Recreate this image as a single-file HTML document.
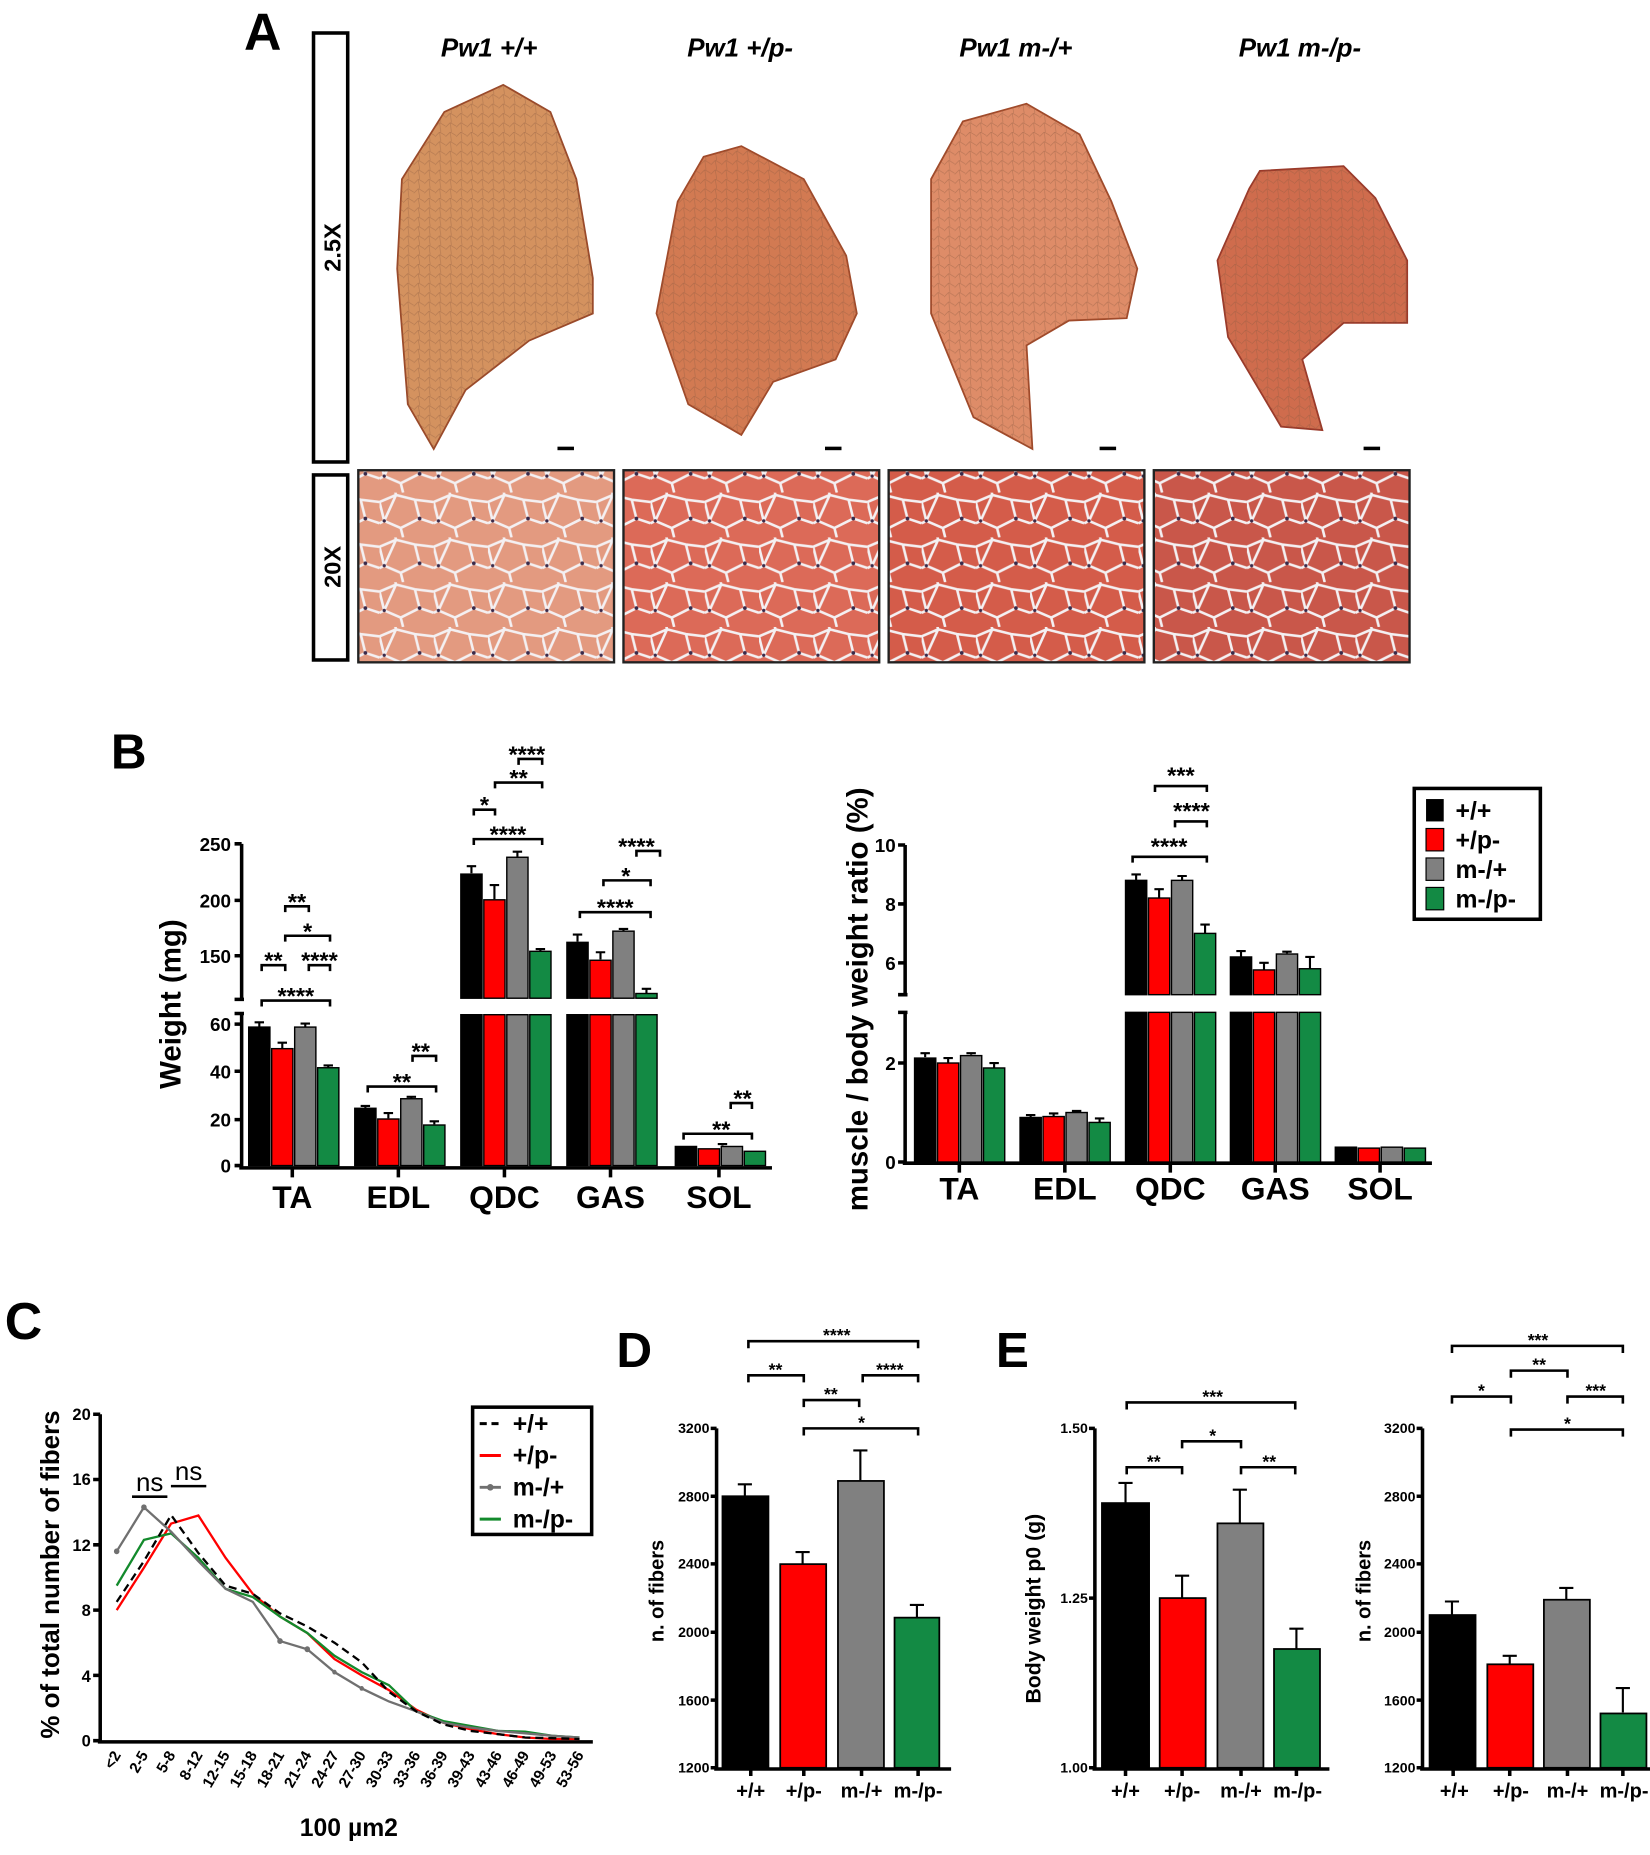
<!DOCTYPE html>
<html><head><meta charset="utf-8"><style>
html,body{margin:0;padding:0;background:#fff;}
svg{display:block}
text{font-family:"Liberation Sans Narrow","Liberation Sans",sans-serif;font-weight:bold;fill:#000}
.b{stroke:#000;stroke-width:2.2;fill:none}
.ax{stroke:#000;stroke-width:3;fill:none}
.er{stroke:#000;stroke-width:1.8;fill:none}
</style></head><body>
<svg width="1650" height="1855" viewBox="0 0 1400 1574" xmlns="http://www.w3.org/2000/svg">
<defs>
<pattern id="cells" width="46" height="38" patternUnits="userSpaceOnUse">
<path d="M0 8 L14 2 L30 6 L46 8 M14 2 L12 -6 M30 6 L34 22 L46 26 M34 22 L18 30 L4 24 L0 26 M4 24 L0 8 M18 30 L20 38 M14 2 L4 24" stroke="#f4f0f2" stroke-width="2.2" fill="none"/>
<circle cx="34" cy="22" r="1.6" fill="#3a2a4a"/><circle cx="4" cy="24" r="1.4" fill="#3a2a4a"/>
</pattern>
<pattern id="fine" width="9" height="8" patternUnits="userSpaceOnUse">
<path d="M0 4 L4 0 L9 3 M4 0 L5 8" stroke="#8a5a40" stroke-width="0.5" fill="none" opacity="0.5"/>
</pattern>
</defs>

<!-- Panel A -->
<text x="207" y="42" style="font-size:44px">A</text>
<rect x="266" y="28" width="29" height="364" fill="none" stroke="#000" stroke-width="3"/>
<rect x="266" y="403" width="29" height="157" fill="none" stroke="#000" stroke-width="3"/>
<text transform="translate(289,210) rotate(-90)" text-anchor="middle" style="font-size:20px">2.5X</text>
<text transform="translate(289,481) rotate(-90)" text-anchor="middle" style="font-size:20px">20X</text>
<g style="font-size:22px;font-style:italic" text-anchor="middle">
<text x="415" y="48">Pw1 +/+</text><text x="628" y="48">Pw1 +/p-</text>
<text x="862" y="48">Pw1 m-/+</text><text x="1103" y="48">Pw1 m-/p-</text></g>
<polygon points="427,72 467,95 489,152 503,236 503,266 449,289 395,331 368,381 346,343 337,228 341,152 377,95" fill="#d4925f" stroke="#9a4a2a" stroke-width="1.5"/>
<polygon points="427,72 467,95 489,152 503,236 503,266 449,289 395,331 368,381 346,343 337,228 341,152 377,95" fill="url(#fine)"/>
<polygon points="629,124 682,152 718,217 727,266 709,305 656,324 629,369 584,343 557,266 575,171 597,133" fill="#d27a52" stroke="#a04a2a" stroke-width="1.5"/>
<polygon points="629,124 682,152 718,217 727,266 709,305 656,324 629,369 584,343 557,266 575,171 597,133" fill="url(#fine)"/>
<polygon points="871,88 916,114 943,171 965,228 956,270 907,272 871,293 876,381 826,354 790,266 790,152 817,103" fill="#de8c68" stroke="#a04a2a" stroke-width="1.5"/>
<polygon points="871,88 916,114 943,171 965,228 956,270 907,272 871,293 876,381 826,354 790,266 790,152 817,103" fill="url(#fine)"/>
<polygon points="1069,145 1140,141 1167,168 1194,221 1194,274 1140,274 1105,305 1122,365 1087,362 1042,286 1033,221 1060,160" fill="#cf6c4d" stroke="#9a3a2a" stroke-width="1.5"/>
<polygon points="1069,145 1140,141 1167,168 1194,221 1194,274 1140,274 1105,305 1122,365 1087,362 1042,286 1033,221 1060,160" fill="url(#fine)"/>
<g fill="#000"><rect x="473" y="379" width="14" height="3"/><rect x="700" y="379" width="14" height="3"/><rect x="933" y="379" width="14" height="3"/><rect x="1157" y="379" width="14" height="3"/></g>
<rect x="304" y="399" width="217" height="163" fill="#e39a80"/><rect x="304" y="399" width="217" height="163" fill="url(#cells)"/>
<rect x="529" y="399" width="217" height="163" fill="#dc6a58"/><rect x="529" y="399" width="217" height="163" fill="url(#cells)"/>
<rect x="754" y="399" width="217" height="163" fill="#d45c4a"/><rect x="754" y="399" width="217" height="163" fill="url(#cells)"/>
<rect x="979" y="399" width="217" height="163" fill="#c9574a"/><rect x="979" y="399" width="217" height="163" fill="url(#cells)"/>
<g fill="none" stroke="#222" stroke-width="2"><rect x="304" y="399" width="217" height="163"/><rect x="529" y="399" width="217" height="163"/><rect x="754" y="399" width="217" height="163"/><rect x="979" y="399" width="217" height="163"/></g>

<!-- Panel B left -->
<text x="94" y="652" style="font-size:42px">B</text>
<g transform="translate(0,4)">
<text transform="translate(153,848) rotate(-90)" text-anchor="middle" style="font-size:25px;font-family:'Liberation Sans',sans-serif">Weight (mg)</text>
<path class="ax" d="M205 712 V844 M205 856 V987 M203 987 H655"/>
<path class="ax" d="M199 712H205 M199 760H205 M199 807H205 M199 865H205 M199 905H205 M199 946H205 M199 985H205 M199 844H207 M199 856H207"/>
<g text-anchor="end" style="font-size:16px"><text x="196" y="718">250</text><text x="196" y="766">200</text><text x="196" y="813">150</text><text x="196" y="871">60</text><text x="196" y="911">40</text><text x="196" y="952">20</text><text x="196" y="991">0</text></g>
<path class="ax" d="M248 987v8 M338 987v8 M428 987v8 M518 987v8 M610 987v8"/>
<g text-anchor="middle" style="font-size:27px;font-family:'Liberation Sans',sans-serif"><text x="248" y="1021">TA</text><text x="338" y="1021">EDL</text><text x="428" y="1021">QDC</text><text x="518" y="1021">GAS</text><text x="610" y="1021">SOL</text></g>
<g stroke="#000" stroke-width="1.2">
<rect x="211" y="867.5" width="18" height="117.5" fill="#000"/><rect x="230.5" y="885.8" width="18" height="99.2" fill="#f00"/><rect x="250" y="867.5" width="18" height="117.5" fill="#808080"/><rect x="269.5" y="902" width="18" height="83" fill="#138a44"/>
<rect x="301" y="936.4" width="18" height="48.6" fill="#000"/><rect x="320.5" y="945.5" width="18" height="39.5" fill="#f00"/><rect x="340" y="928.3" width="18" height="56.7" fill="#808080"/><rect x="359.5" y="950.6" width="18" height="34.4" fill="#138a44"/>
<rect x="391" y="737.7" width="18" height="105.3" fill="#000"/><rect x="410.5" y="759.5" width="18" height="83.5" fill="#f00"/><rect x="430" y="723.4" width="18" height="119.6" fill="#808080"/><rect x="449.5" y="803.2" width="18" height="39.8" fill="#138a44"/>
<rect x="391" y="857" width="18" height="128" fill="#000"/><rect x="410.5" y="857" width="18" height="128" fill="#f00"/><rect x="430" y="857" width="18" height="128" fill="#808080"/><rect x="449.5" y="857" width="18" height="128" fill="#138a44"/>
<rect x="481" y="795.6" width="18" height="47.4" fill="#000"/><rect x="500.5" y="810.8" width="18" height="32.2" fill="#f00"/><rect x="520" y="786.1" width="18" height="56.9" fill="#808080"/><rect x="539.5" y="839" width="18" height="4" fill="#138a44"/>
<rect x="481" y="857" width="18" height="128" fill="#000"/><rect x="500.5" y="857" width="18" height="128" fill="#f00"/><rect x="520" y="857" width="18" height="128" fill="#808080"/><rect x="539.5" y="857" width="18" height="128" fill="#138a44"/>
<rect x="573" y="968.8" width="18" height="16.2" fill="#000"/><rect x="592.5" y="970.8" width="18" height="14.2" fill="#f00"/><rect x="612" y="968.8" width="18" height="16.2" fill="#808080"/><rect x="631.5" y="972.9" width="18" height="12.1" fill="#138a44"/>
</g>
<path class="er" d="M220 867V863.5M216 863.5h8 M239.5 885.8V880.7M235.5 880.7h8 M259 867V864.5M255 864.5h8 M278.5 902V900M274.5 900h8
M310 936V934.4M306 934.4h8 M329.5 945V940.5M325.5 940.5h8 M349 928V926.7M345 926.7h8 M368.5 950V947.5M364.5 947.5h8
M400 737V731M396 731h8 M419.5 759V747M415.5 747h8 M439 723V718.7M435 718.7h8 M458.5 803V801.3M454.5 801.3h8
M490 795V789M486 789h8 M509.5 810V804M505.5 804h8 M529 786V784.2M525 784.2h8 M548.5 839V835M544.5 835h8
M613 968V966.8M609 966.8h8"/>
<path class="b" d="M222 850V845H280V850 M222 820V815H242V820 M262 820V815H280V820 M242 795V790H280V795 M242 770V765H262V770
M312 923V918H370V923 M350 897V892H370V897
M402 713V708H460V713 M402 688V683H420V688 M420 665V660H460V665 M440 645V640H460V645
M492 775V770H552V775 M512 748V743H552V748 M540 723V718H560V723
M580 963V958H638V963 M620 937V932H638V937"/>
<g text-anchor="middle" style="font-size:20px"><text x="251" y="848">****</text><text x="232" y="818">**</text><text x="271" y="818">****</text><text x="261" y="793">*</text><text x="252" y="768">**</text>
<text x="341" y="921">**</text><text x="357" y="895">**</text>
<text x="431" y="711">****</text><text x="411" y="686">*</text><text x="440" y="663">**</text><text x="447" y="643">****</text>
<text x="522" y="773">****</text><text x="531" y="746">*</text><text x="540" y="721">****</text>
<text x="612" y="961">**</text><text x="630" y="935">**</text></g>
</g>

<!-- Panel B right -->
<text transform="translate(736,848) rotate(-90)" text-anchor="middle" style="font-size:25px;font-family:'Liberation Sans',sans-serif">muscle / body weight ratio (%)</text>
<path class="ax" d="M768 717 V844 M768 859 V987 M766 987 H1215"/>
<path class="ax" d="M762 717H768 M762 767H768 M762 817H768 M762 902H768 M762 986H768 M762 844H770 M762 859H770"/>
<g text-anchor="end" style="font-size:16px"><text x="760" y="723">10</text><text x="760" y="773">8</text><text x="760" y="823">6</text><text x="760" y="908">2</text><text x="760" y="992">0</text></g>
<path class="ax" d="M814 987v8 M903.5 987v8 M993 987v8 M1082 987v8 M1171 987v8"/>
<g text-anchor="middle" style="font-size:27px;font-family:'Liberation Sans',sans-serif"><text x="814" y="1018">TA</text><text x="903.5" y="1018">EDL</text><text x="993" y="1018">QDC</text><text x="1082" y="1018">GAS</text><text x="1171" y="1018">SOL</text></g>
<g stroke="#000" stroke-width="1.2">
<rect x="776" y="897.8" width="18" height="88.2" fill="#000"/><rect x="795.5" y="902" width="18" height="84" fill="#f00"/><rect x="815" y="895.7" width="18" height="90.3" fill="#808080"/><rect x="834.5" y="906.2" width="18" height="79.8" fill="#138a44"/>
<rect x="865.5" y="948.2" width="18" height="37.8" fill="#000"/><rect x="885" y="947.4" width="18" height="38.6" fill="#f00"/><rect x="904.5" y="944" width="18" height="42" fill="#808080"/><rect x="924" y="952.4" width="18" height="33.6" fill="#138a44"/>
<rect x="955" y="747" width="18" height="97" fill="#000"/><rect x="974.5" y="762" width="18" height="82" fill="#f00"/><rect x="994" y="747" width="18" height="97" fill="#808080"/><rect x="1013.5" y="792" width="18" height="52" fill="#138a44"/>
<rect x="955" y="859" width="18" height="127" fill="#000"/><rect x="974.5" y="859" width="18" height="127" fill="#f00"/><rect x="994" y="859" width="18" height="127" fill="#808080"/><rect x="1013.5" y="859" width="18" height="127" fill="#138a44"/>
<rect x="1044" y="812" width="18" height="32" fill="#000"/><rect x="1063.5" y="823" width="18" height="21" fill="#f00"/><rect x="1083" y="809.5" width="18" height="34.5" fill="#808080"/><rect x="1102.5" y="822" width="18" height="22" fill="#138a44"/>
<rect x="1044" y="859" width="18" height="127" fill="#000"/><rect x="1063.5" y="859" width="18" height="127" fill="#f00"/><rect x="1083" y="859" width="18" height="127" fill="#808080"/><rect x="1102.5" y="859" width="18" height="127" fill="#138a44"/>
<rect x="1133" y="973.4" width="18" height="12.6" fill="#000"/><rect x="1152.5" y="974.2" width="18" height="11.8" fill="#f00"/><rect x="1172" y="973.4" width="18" height="12.6" fill="#808080"/><rect x="1191.5" y="974.2" width="18" height="11.8" fill="#138a44"/>
</g>
<path class="er" d="M785 897V893.6M781 893.6h8 M804.5 902V897.8M800.5 897.8h8 M824 895V893.6M820 893.6h8 M843.5 906V902M839.5 902h8
M874.5 948V946.1M870.5 946.1h8 M894 947V944.8M890 944.8h8 M913.5 944V942.7M909.5 942.7h8 M933 952V949M929 949h8
M964 747V742M960 742h8 M983.5 762V754.5M979.5 754.5h8 M1003 747V743.3M999 743.3h8 M1022.5 792V784.5M1018.5 784.5h8
M1053 812V807M1049 807h8 M1072.5 823V817M1068.5 817h8 M1092 809V807.5M1088 807.5h8 M1111.5 822V812M1107.5 812h8"/>
<path class="b" d="M961 732V727H1024V732 M997 702V697H1024V702 M980 672V667H1024V672"/>
<g text-anchor="middle" style="font-size:20px"><text x="992" y="725">****</text><text x="1011" y="695">****</text><text x="1002" y="665">***</text></g>
<rect x="1200" y="669" width="107" height="111" fill="#fff" stroke="#000" stroke-width="3"/>
<rect x="1210" y="678" width="15" height="19" fill="#000"/><rect x="1210" y="703" width="15" height="19" fill="#f00" stroke="#000"/><rect x="1210" y="728" width="15" height="19" fill="#808080" stroke="#000"/><rect x="1210" y="753" width="15" height="19" fill="#138a44" stroke="#000"/>
<g style="font-size:21px;font-family:'Liberation Sans',sans-serif"><text x="1235" y="695">+/+</text><text x="1235" y="720">+/p-</text><text x="1235" y="745">m-/+</text><text x="1235" y="770">m-/p-</text></g>

<!-- Panel C -->
<text x="4" y="1136" style="font-size:44px">C</text>
<text transform="translate(50,1336) rotate(-90)" text-anchor="middle" style="font-size:22px;font-family:'Liberation Sans',sans-serif">% of total number of fibers</text>
<path class="ax" d="M85 1200 V1478 M83 1478 H503"/>
<path class="ax" d="M79 1200H85 M79 1255.4H85 M79 1310.8H85 M79 1366.2H85 M79 1421.6H85 M79 1477H85"/>
<g text-anchor="end" style="font-size:14px"><text x="77" y="1205">20</text><text x="77" y="1260">16</text><text x="77" y="1316">12</text><text x="77" y="1371">8</text><text x="77" y="1427">4</text><text x="77" y="1482">0</text></g>
<g style="font-size:13px" text-anchor="end">
<text transform="translate(103,1489) rotate(-60)">&lt;2</text><text transform="translate(126.1,1489) rotate(-60)">2-5</text><text transform="translate(149.2,1489) rotate(-60)">5-8</text><text transform="translate(172.3,1489) rotate(-60)">8-12</text><text transform="translate(195.4,1489) rotate(-60)">12-15</text><text transform="translate(218.5,1489) rotate(-60)">15-18</text><text transform="translate(241.6,1489) rotate(-60)">18-21</text><text transform="translate(264.7,1489) rotate(-60)">21-24</text><text transform="translate(287.8,1489) rotate(-60)">24-27</text><text transform="translate(310.9,1489) rotate(-60)">27-30</text><text transform="translate(334,1489) rotate(-60)">30-33</text><text transform="translate(357.1,1489) rotate(-60)">33-36</text><text transform="translate(380.2,1489) rotate(-60)">36-39</text><text transform="translate(403.3,1489) rotate(-60)">39-43</text><text transform="translate(426.4,1489) rotate(-60)">43-46</text><text transform="translate(449.5,1489) rotate(-60)">46-49</text><text transform="translate(472.6,1489) rotate(-60)">49-53</text><text transform="translate(495.7,1489) rotate(-60)">53-56</text></g>
<text x="296" y="1558" text-anchor="middle" style="font-size:21px;font-family:'Liberation Sans',sans-serif">100 µm2</text>
<g transform="matrix(0.9429 0 0 1.00727 31.1 -3.7)">
<g fill="none" stroke-width="2.3">
<polyline vector-effect="non-scaling-stroke" stroke="#f00" points="72,1360 96.5,1324.3 121,1287.1 145.5,1280.3 170,1316 194.5,1346.3 219,1365.5 243.5,1379.3 268,1401.3 292.5,1415 317,1427.4 341.5,1443.9 366,1454.9 390.5,1460.4 415,1464.5 439.5,1467.3 464,1468.6 488.5,1468.6"/>
<polyline vector-effect="non-scaling-stroke" stroke="#138a2c" points="72,1339.4 96.5,1300.9 121,1295.4 145.5,1316 170,1342.1 194.5,1349 219,1365.5 243.5,1379.3 268,1398.5 292.5,1412.3 317,1423.3 341.5,1445.3 366,1453.5 390.5,1457.6 415,1461.8 439.5,1462.4 464,1465.9 488.5,1467.3"/>
<polyline vector-effect="non-scaling-stroke" stroke="#707070" points="72,1310.5 96.5,1273.4 121,1294 145.5,1318.8 170,1342.1 194.5,1353.1 219,1386.1 243.5,1393 268,1412.3 292.5,1426 317,1437 341.5,1445.3 366,1454.9 390.5,1459 415,1461.8 439.5,1463.8 464,1465.9 488.5,1467.3"/>
<polyline vector-effect="non-scaling-stroke" stroke="#000" stroke-dasharray="8,5" points="72,1353.1 96.5,1318.8 121,1280 145.5,1311.9 170,1339.4 194.5,1346.3 219,1362.8 243.5,1373.8 268,1387.5 292.5,1404 317,1428.8 341.5,1445.3 366,1456.3 390.5,1461.8 415,1464.5 439.5,1467.3 464,1467.9 488.5,1468.6"/>
</g>
<g fill="#707070"><circle cx="72" cy="1310.5" r="2.5"/><circle cx="96.5" cy="1273.4" r="2.5"/><circle cx="219" cy="1386.1" r="2.5"/><circle cx="243.5" cy="1393" r="2.5"/><circle cx="268" cy="1412.3" r="2"/><circle cx="292.5" cy="1426" r="2"/></g>
</g>
<path class="b" d="M112 1270H142 M145 1261H175"/>
<g style="font-size:22px;font-family:'Liberation Sans',sans-serif" text-anchor="middle"><text x="127" y="1265" style="font-weight:normal">ns</text><text x="160" y="1256" style="font-weight:normal">ns</text></g>
<rect x="401" y="1194" width="101" height="108" fill="#fff" stroke="#000" stroke-width="3"/>
<path d="M407 1208H425" stroke="#000" stroke-width="2.5" stroke-dasharray="6,4"/><path d="M407 1235H425" stroke="#f00" stroke-width="2.5"/><path d="M407 1262H425" stroke="#707070" stroke-width="2.5"/><circle cx="416" cy="1262" r="2.8" fill="#707070"/><path d="M407 1289H425" stroke="#138a2c" stroke-width="2.5"/>
<g style="font-size:21px;font-family:'Liberation Sans',sans-serif"><text x="435" y="1215">+/+</text><text x="435" y="1242">+/p-</text><text x="435" y="1269">m-/+</text><text x="435" y="1296">m-/p-</text></g>

<!-- Panel D -->
<text x="523" y="1160" style="font-size:42px">D</text>
<g transform="translate(7,5)">
<text transform="translate(556,1345) rotate(-90)" text-anchor="middle" style="font-size:17px;font-family:'Liberation Sans',sans-serif">n. of fibers</text>
<path class="ax" d="M601 1207 V1496 M599 1496 H800"/>
<path class="ax" d="M596 1207H601 M596 1264.6H601 M596 1322H601 M596 1380H601 M596 1437.6H601 M596 1495H601 M630 1496v6 M675 1496v6 M724 1496v6 M772 1496v6"/>
<g text-anchor="end" style="font-size:12px"><text x="595" y="1211">3200</text><text x="595" y="1269">2800</text><text x="595" y="1326">2400</text><text x="595" y="1384">2000</text><text x="595" y="1442">1600</text><text x="595" y="1499">1200</text></g>
<g stroke="#000" stroke-width="1.5"><rect x="606" y="1264.6" width="39" height="230.4" fill="#000"/><rect x="655" y="1322.2" width="39" height="172.8" fill="#f00"/><rect x="704" y="1251.6" width="39" height="243.4" fill="#808080"/><rect x="752" y="1367.6" width="38" height="127.4" fill="#138a44"/></g>
<path class="er" d="M625 1264V1254.5M619 1254.5h12 M674 1322V1312M668 1312h12 M723 1251V1225.7M717 1225.7h12 M771 1367V1356.8M765 1356.8h12"/>
<g text-anchor="middle" style="font-size:17px;font-family:'Liberation Sans',sans-serif"><text x="630" y="1520">+/+</text><text x="675" y="1520">+/p-</text><text x="724" y="1520">m-/+</text><text x="772" y="1520">m-/p-</text></g>
<path class="b" d="M628 1139V1133H772V1139 M628 1168V1162H675V1168 M725 1168V1162H772V1168 M675 1189V1183H722V1189 M675 1213V1207H772V1213"/>
<g text-anchor="middle" style="font-size:15px"><text x="703" y="1133">****</text><text x="651" y="1162">**</text><text x="748" y="1162">****</text><text x="698" y="1183">**</text><text x="724" y="1207">*</text></g>
</g>

<!-- Panel E -->
<text x="845" y="1160" style="font-size:42px">E</text>
<g transform="translate(11,5)">
<text transform="translate(872,1360) rotate(-90)" text-anchor="middle" style="font-size:18px;font-family:'Liberation Sans',sans-serif">Body weight p0 (g)</text>
<path class="ax" d="M918 1207 V1496 M916 1496 H1117"/>
<path class="ax" d="M913 1207H918 M913 1351H918 M913 1495H918 M944 1496v6 M992 1496v6 M1042 1496v6 M1089 1496v6"/>
<g text-anchor="end" style="font-size:12px"><text x="912" y="1211">1.50</text><text x="912" y="1355">1.25</text><text x="912" y="1499">1.00</text></g>
<g stroke="#000" stroke-width="1.5"><rect x="924" y="1270.4" width="40" height="224.6" fill="#000"/><rect x="973" y="1351" width="39" height="144" fill="#f00"/><rect x="1022" y="1287.6" width="39" height="207.4" fill="#808080"/><rect x="1070" y="1394.2" width="39" height="100.8" fill="#138a44"/></g>
<path class="er" d="M944 1270V1253.3M938 1253.3h12 M992 1351V1332M986 1332h12 M1041 1287V1259M1035 1259h12 M1089 1394V1377M1083 1377h12"/>
<g text-anchor="middle" style="font-size:17px;font-family:'Liberation Sans',sans-serif"><text x="944" y="1520">+/+</text><text x="992" y="1520">+/p-</text><text x="1042" y="1520">m-/+</text><text x="1090" y="1520">m-/p-</text></g>
<path class="b" d="M945 1191V1185H1088V1191 M945 1246V1240H992V1246 M992 1224V1218H1042V1224 M1042 1246V1240H1088V1246"/>
<g text-anchor="middle" style="font-size:15px"><text x="1018" y="1185">***</text><text x="968" y="1240">**</text><text x="1018" y="1218">*</text><text x="1066" y="1240">**</text></g>
</g>

<!-- Panel E right -->
<g transform="translate(12,5)">
<text transform="translate(1151,1345) rotate(-90)" text-anchor="middle" style="font-size:17px;font-family:'Liberation Sans',sans-serif">n. of fibers</text>
<path class="ax" d="M1195 1207 V1496 M1193 1496 H1394"/>
<path class="ax" d="M1190 1207H1195 M1190 1264.6H1195 M1190 1322H1195 M1190 1380H1195 M1190 1437.6H1195 M1190 1495H1195 M1221 1496v6 M1269 1496v6 M1318 1496v6 M1365 1496v6"/>
<g text-anchor="end" style="font-size:12px"><text x="1189" y="1211">3200</text><text x="1189" y="1269">2800</text><text x="1189" y="1326">2400</text><text x="1189" y="1384">2000</text><text x="1189" y="1442">1600</text><text x="1189" y="1499">1200</text></g>
<g stroke="#000" stroke-width="1.5"><rect x="1201" y="1365.4" width="39" height="129.6" fill="#000"/><rect x="1250" y="1407.2" width="39" height="87.8" fill="#f00"/><rect x="1298" y="1352.4" width="39" height="142.6" fill="#808080"/><rect x="1346" y="1448.9" width="39" height="46.1" fill="#138a44"/></g>
<path class="er" d="M1220 1365V1353.9M1214 1353.9h12 M1269 1407V1400M1263 1400h12 M1317 1352V1342.4M1311 1342.4h12 M1365 1448V1427.3M1359 1427.3h12"/>
<g text-anchor="middle" style="font-size:17px;font-family:'Liberation Sans',sans-serif"><text x="1222" y="1520">+/+</text><text x="1270" y="1520">+/p-</text><text x="1318" y="1520">m-/+</text><text x="1366" y="1520">m-/p-</text></g>
<path class="b" d="M1220 1143V1137H1365V1143 M1270 1164V1158H1318V1164 M1220 1186V1180H1270V1186 M1318 1186V1180H1365V1186 M1270 1214V1208H1365V1214"/>
<g text-anchor="middle" style="font-size:15px"><text x="1293" y="1137">***</text><text x="1294" y="1158">**</text><text x="1245" y="1180">*</text><text x="1342" y="1180">***</text><text x="1318" y="1208">*</text></g>
</g>
</svg>
</body></html>
